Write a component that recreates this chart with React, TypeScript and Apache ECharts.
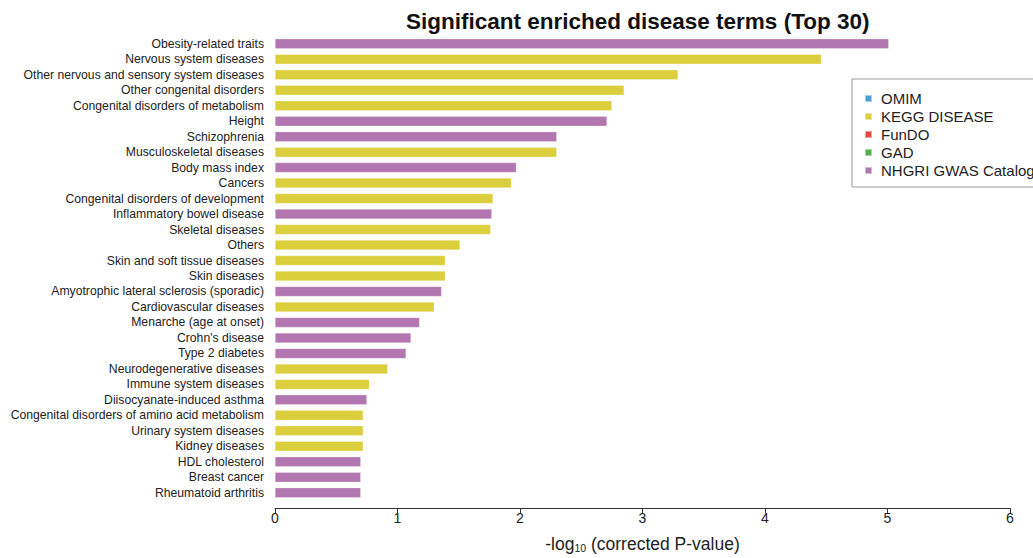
import React, { useEffect, useRef } from "react";
import * as echarts from "echarts";

const categories = [
  "Obesity-related traits",
  "Nervous system diseases",
  "Other nervous and sensory system diseases",
  "Other congenital disorders",
  "Congenital disorders of metabolism",
  "Height",
  "Schizophrenia",
  "Musculoskeletal diseases",
  "Body mass index",
  "Cancers",
  "Congenital disorders of development",
  "Inflammatory bowel disease",
  "Skeletal diseases",
  "Others",
  "Skin and soft tissue diseases",
  "Skin diseases",
  "Amyotrophic lateral sclerosis (sporadic)",
  "Cardiovascular diseases",
  "Menarche (age at onset)",
  "Crohn's disease",
  "Type 2 diabetes",
  "Neurodegenerative diseases",
  "Immune system diseases",
  "Diisocyanate-induced asthma",
  "Congenital disorders of amino acid metabolism",
  "Urinary system diseases",
  "Kidney diseases",
  "HDL cholesterol",
  "Breast cancer",
  "Rheumatoid arthritis",
];

const values = [
  5.01, 4.46, 3.29, 2.85, 2.75, 2.71, 2.3, 2.3, 1.97, 1.93, 1.78, 1.77, 1.76,
  1.51, 1.39, 1.39, 1.36, 1.3, 1.18, 1.11, 1.07, 0.92, 0.77, 0.75, 0.72, 0.72,
  0.72, 0.7, 0.7, 0.7,
];

const sources = [
  "NHGRI GWAS Catalog", "KEGG DISEASE", "KEGG DISEASE", "KEGG DISEASE", "KEGG DISEASE",
  "NHGRI GWAS Catalog", "NHGRI GWAS Catalog", "KEGG DISEASE", "NHGRI GWAS Catalog", "KEGG DISEASE",
  "KEGG DISEASE", "NHGRI GWAS Catalog", "KEGG DISEASE", "KEGG DISEASE", "KEGG DISEASE",
  "KEGG DISEASE", "NHGRI GWAS Catalog", "KEGG DISEASE", "NHGRI GWAS Catalog", "NHGRI GWAS Catalog",
  "NHGRI GWAS Catalog", "KEGG DISEASE", "KEGG DISEASE", "NHGRI GWAS Catalog", "KEGG DISEASE",
  "KEGG DISEASE", "KEGG DISEASE", "NHGRI GWAS Catalog", "NHGRI GWAS Catalog", "NHGRI GWAS Catalog",
];

const sourceNames = ["OMIM", "KEGG DISEASE", "FunDO", "GAD", "NHGRI GWAS Catalog"];
const sourceColors = ["#4a9fdc", "#dccf3d", "#e8473f", "#4caf50", "#b276b0"];

const xTicks = [0, 1, 2, 3, 4, 5, 6];

const FONT = "'Liberation Sans', Arial, Helvetica, sans-serif";

export default function App() {
  const ref = useRef<HTMLDivElement>(null);
  useEffect(() => {
    document.body.style.margin = "0";
    const chart = echarts.init(ref.current!, undefined, { renderer: "svg" });
    const series = sourceNames.map((name, si) => ({
      name,
      type: "bar",
      stack: "all",
      barWidth: 10,
      itemStyle: { color: sourceColors[si], borderColor: "rgba(255,255,255,0.5)", borderWidth: 0.5 },
      data: values.map((v, i) => (sources[i] === name ? v : "-")),
    }));
    chart.setOption({
      animation: false,
      textStyle: { fontFamily: FONT },
      title: {
        text: "Significant enriched disease terms (Top 30)",
        left: 401,
        top: 5,
        textStyle: { fontFamily: FONT, fontSize: 22.5, fontWeight: "bold", color: "#111" },
      },
      legend: {
        orient: "vertical",
        left: 852,
        top: 79,
        data: sourceNames,
        icon: "rect",
        itemWidth: 7,
        itemHeight: 7,
        itemGap: 3,
        padding: [12, 20, 9, 12],
        borderColor: "#999",
        borderWidth: 1,
        textStyle: { fontFamily: FONT, fontSize: 15, color: "#222", lineHeight: 15, padding: [0, 0, 0, 4] },
        selectedMode: false,
      },
      grid: { left: 275, right: 23, top: 36, bottom: 54, containLabel: false },
      xAxis: {
        type: "value",
        min: 0,
        max: 6,
        interval: 1,
        offset: 7.5,
        axisLine: { show: true, lineStyle: { color: "#333", width: 1 } },
        axisTick: { show: true, length: 5, lineStyle: { color: "#333" } },
        splitLine: { show: false },
        axisLabel: {
          fontFamily: FONT,
          fontSize: 14,
          color: "#222",
          margin: 3,
          formatter: (v: number) => (xTicks.includes(v) ? String(v) : ""),
        },
        name: "-log{sub|10} (corrected P-value)",
        nameLocation: "middle",
        nameGap: 27,
        nameTextStyle: {
          fontFamily: FONT,
          fontSize: 17.5,
          color: "#222",
          rich: { sub: { fontSize: 10.5, verticalAlign: "bottom", padding: [7, 0, 0, 0], fontFamily: FONT, color: "#222" } },
        },
      },
      yAxis: {
        type: "category",
        inverse: true,
        data: categories,
        axisLine: { show: false },
        axisTick: { show: false },
        axisLabel: { fontFamily: FONT, fontSize: 12.2, color: "#222", margin: 11, interval: 0 },
      },
      series,
    });
    return () => chart.dispose();
  }, []);
  return <div ref={ref} style={{ width: 1033, height: 558, position: "absolute", left: 0, top: 0 }} />;
}
